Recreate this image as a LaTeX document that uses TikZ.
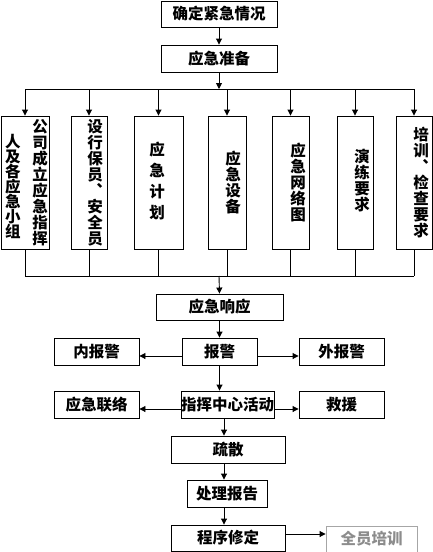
\documentclass[tikz,border=0pt]{standalone}
\usepackage{fontspec}
\newfontfamily\cjk{Noto Sans CJK SC}
\usetikzlibrary{arrows.meta}

\begin{document}
\begin{tikzpicture}[x=1pt,y=-1pt,
    caja/.style={draw, line width=0.9pt, inner sep=0pt},
    gris/.style={draw=gray!70, text=gray!90, line width=0.9pt, inner sep=0pt},
    linea/.style={line width=0.9pt},
    flecha/.style={line width=0.9pt, -{Triangle[length=6pt,width=6pt]}},
    texto/.style={font=\cjk\bfseries\fontsize{15.5}{16}\selectfont, inner sep=0pt, align=center}]
    \useasboundingbox (0,0) rectangle (433,552);
    % Parte alta: confirmar la situación y preparar la respuesta.
    \node[caja, texto, minimum width=116, minimum height=26] (confirm) at (219,14) {确定紧急情况};
    \node[caja, texto, minimum width=116, minimum height=27] (prep) at (219,58.5) {应急准备};
    \coordinate (split) at (219,89);
    \coordinate (join) at (219,276);
    \foreach \n/\cx/\w in {c1/25/48, c2/89/36, c3/158.5/49, c4/227/38, c5/290.5/37, c6/355/36, c7/414/36}
        \node[caja, minimum width=\w, minimum height=133] (\n) at (\cx,182.5) {};
    \node[texto] (t1a) at ([xshift=15pt]c1) {公\\司\\成\\立\\应\\急\\指\\挥};
    \node[texto, font=\cjk\bfseries\fontsize{15.5}{15}\selectfont] (t1b) at ([xshift=-12pt,yshift=-4pt]c1) {人\\及\\各\\应\\急\\小\\组};
    \node[texto] (t2) at ([xshift=6pt]c2) {设\\行\\保\\员\\︑\\安\\全\\员};
    \node[texto] (t3) at ([xshift=-1.5pt,yshift=1.5pt]c3) {应\\[5pt]急\\[5pt]计\\[5pt]划};
    \node[texto] (t4) at ([xshift=6pt]c4) {应\\急\\设\\备};
    \node[texto] (t5) at ([xshift=7.5pt]c5) {应\\急\\网\\络\\图};
    \node[texto] (t6) at ([xshift=7pt,yshift=2pt]c6) {演\\练\\要\\求};
    \node[texto] (t7) at ([xshift=7pt]c7) {培\\训\\︑\\检\\查\\要\\求};
    \draw[flecha] (confirm.south) -- (prep.north);
    \draw[flecha] (prep.south) -- (split);
    \draw[linea] (split -| c1) -- (split -| c7);
    \draw[linea] (join -| c1) -- (join -| c7);
    \foreach \n in {c1,c2,c3,c4,c5,c6,c7} {
        \draw[flecha] (split -| \n) -- (\n.north);
        \draw[linea] (\n.south) -- (join -| \n);
    }
    % Parte baja: respuesta, avisos y cierre.
    \node[caja, texto, minimum width=127, minimum height=26] (resp) at (219.5,307) {应急响应};
    \node[caja, texto, minimum width=75, minimum height=27] (alarm) at (219.5,351.5) {报警};
    \node[caja, texto, minimum width=85, minimum height=27] (inner) at (96.5,351.5) {内报警};
    \node[caja, texto, minimum width=85, minimum height=27] (outer) at (341.5,351.5) {外报警};
    \node[caja, texto, minimum width=91, minimum height=27] (command) at (227.5,404.5) {指挥中心活动};
    \node[caja, texto, minimum width=85, minimum height=27] (contact) at (96.5,404.5) {应急联络};
    \node[caja, texto, minimum width=85, minimum height=27] (rescue) at (341.5,404.5) {救援};
    \node[caja, texto, minimum width=114, minimum height=27] (evac) at (228,449.5) {疏散};
    \node[caja, texto, minimum width=80, minimum height=27] (report) at (227,493.5) {处理报告};
    \node[caja, texto, minimum width=114, minimum height=26] (revise) at (228,538) {程序修定};
    \node[gris, texto, minimum width=91, minimum height=26] (train) at (371.5,539) {全员培训};
    \coordinate (axis) at (224,0);
    \draw[flecha] (join) -- (resp.north);
    \draw[flecha] (resp.south) -- (alarm.north);
    \draw[flecha] ([yshift=-4.5pt]alarm.west) -- ([yshift=-4.5pt]inner.east);
    \draw[flecha] ([yshift=-4.5pt]alarm.east) -- ([yshift=-4.5pt]outer.west);
    \draw[flecha] (alarm.south) -- (alarm.south |- command.north);
    \draw[flecha] ([yshift=-4.5pt]command.west) -- ([yshift=-4.5pt]contact.east);
    \draw[flecha] ([yshift=-4.5pt]command.east) -- ([yshift=-4.5pt]rescue.west);
    \draw[flecha] (command.south -| axis) -- (evac.north -| axis);
    \draw[flecha] (evac.south -| axis) -- (report.north -| axis);
    \draw[flecha] (report.south -| axis) -- (revise.north -| axis);
    \draw[flecha] ([yshift=4pt]revise.east) -- ([yshift=5pt]train.west);
\end{tikzpicture}
\end{document}
